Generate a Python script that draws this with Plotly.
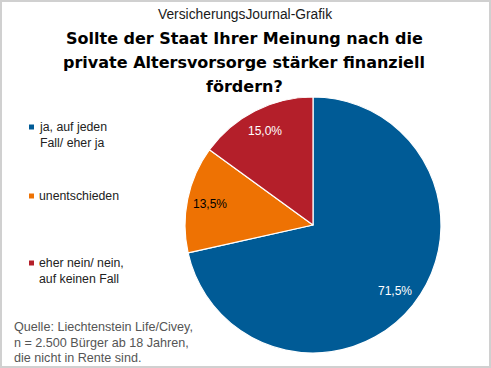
import math
import plotly.graph_objects as go

W, H = 491, 368

labels = ["ja, auf jeden<br>Fall/ eher ja", "unentschieden", "eher nein/ nein,<br>auf keinen Fall"]
values = [71.5, 13.5, 15.0]
colors = ["#005b96", "#ee7203", "#b41f2a"]
text_colors = ["white", "black", "white"]

top_title = "VersicherungsJournal-Grafik"
title_lines = ["Sollte der Staat Ihrer Meinung nach die",
               "private Altersvorsorge stärker finanziell",
               "fördern?"]
source_lines = ["Quelle: Liechtenstein Life/Civey,",
                "n = 2.500 Bürger ab 18 Jahren,",
                "die nicht in Rente sind."]

def px(x):
    return x / W

def py(y):
    return 1 - y / H

cx, cy, r = 313, 225, 128

fig = go.Figure(go.Pie(
    labels=labels, values=values, sort=False, direction="clockwise", rotation=0,
    marker=dict(colors=colors, line=dict(color="white", width=1.2)),
    textinfo="none", hoverinfo="label+percent", showlegend=False,
    domain=dict(x=[px(cx - r), px(cx + r)], y=[py(cy + r), py(cy - r)]),
))

ann = []
shapes = []

def add_text(x, y, text, size, color, family="Liberation Sans, Arial", xanchor="center", align="center"):
    ann.append(dict(x=px(x), y=py(y), xref="paper", yref="paper", showarrow=False,
                    xanchor=xanchor, yanchor="middle", align=align, text=text,
                    font=dict(family=family, size=size, color=color)))

# slice labels
total = sum(values)
start = 0.0
for v, tc in zip(values, text_colors):
    mid = (start + v / 2) / total * 2 * math.pi
    start += v
    lx = cx + 0.82 * r * math.sin(mid)
    ly = cy - 0.82 * r * math.cos(mid)
    add_text(lx, ly, f"{v:.1f}".replace(".", ",") + "%", 12, tc)

add_text(245, 14, top_title, 13.8, "#1a1a1a")
for i, t in enumerate(title_lines):
    add_text(244, 39 + i * 23.5, f"<b>{t}</b>", 16, "black", family="DejaVu Sans")

# legend
leg_y = [135, 196, 271]
for lab, c, y in zip(labels, colors, leg_y):
    nlines = lab.count("<br>") + 1
    first_y = y - (nlines - 1) * 8
    shapes.append(dict(type="rect", xref="paper", yref="paper",
                       x0=px(29), x1=px(34), y0=py(first_y + 2.5), y1=py(first_y - 2.5),
                       fillcolor=c, line=dict(width=0)))
    add_text(37, y, lab, 12.3, "#222222", xanchor="left", align="left")

for i, t in enumerate(source_lines):
    add_text(12, 327 + i * 15.5, t, 12.6, "#555555", xanchor="left", align="left")

shapes.append(dict(type="rect", xref="paper", yref="paper", x0=px(1), x1=px(W - 1), y0=py(H - 1), y1=py(1),
                   line=dict(color="#d0d0d0", width=2)))

fig.update_layout(width=W, height=H, margin=dict(l=0, r=0, t=0, b=0),
                  paper_bgcolor="white", plot_bgcolor="white",
                  annotations=ann, shapes=shapes)
fig.write_html("out.html")
